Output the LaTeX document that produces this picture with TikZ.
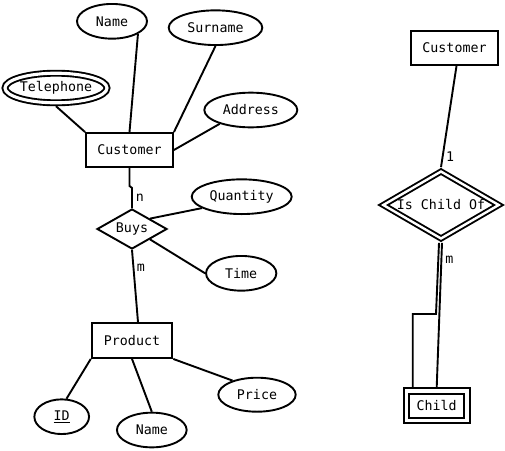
\documentclass[tikz,border=0pt]{standalone}
\usepackage{fontspec}
\setmonofont{DejaVu Sans Mono}
\usetikzlibrary{shapes.geometric}
\begin{document}
\begin{tikzpicture}[x=1pt,y=1pt,line width=1.9pt]
  \tikzstyle{every node}+=[inner sep=0pt,font=\ttfamily\fontsize{13.3}{16}\selectfont]
  \tikzstyle{entity}=[draw,rectangle,minimum width=87pt,minimum height=34pt]
  \tikzstyle{attr}=[draw,ellipse,minimum width=70pt,minimum height=34.7pt]
  \tikzstyle{rel}=[draw,diamond,aspect=1.8]
  \tikzstyle{weak}=[double,double distance=3.1pt,outer sep=3.4pt]
  \useasboundingbox (0,0) rectangle (505,-450);
  \node [entity] (cust) at (129.5,-150) {Customer};
  \node [attr] (name) at (112,-21.3) {Name};
  \node [attr,minimum width=93.6pt] (surname) at (215.5,-27.7) {Surname};
  \node [attr,weak,minimum width=102pt,minimum height=29.6pt] (tel) at (56,-88) {Telephone};
  \node [attr,minimum width=93pt] (addr) at (250.8,-110) {Address};
  \node [rel,minimum width=70pt,minimum height=40pt] (buys) at (132,-229) {Buys};
  \node [attr,minimum width=100pt] (qty) at (241.7,-196.7) {Quantity};
  \node [attr,minimum width=70.3pt] (time) at (241.2,-273.3) {Time};
  \node [entity,minimum width=80.6pt,minimum height=35pt] (prod) at (132,-340.5) {Product};
  \node [attr,minimum width=54.7pt] (id) at (61.7,-416.7) {\underline{ID}};
  \node [attr,minimum width=69.7pt] (pname) at (151.8,-430) {Name};
  \node [attr,minimum width=77.4pt,minimum height=34pt] (price) at (257,-394.7) {Price};
  \node [entity] (cust2) at (454.5,-48) {Customer};
  \node [rel,weak,double distance=2.4pt,outer sep=3.1pt,minimum width=118pt,minimum height=69.5pt] (icof) at (441,-205) {Is Child Of};
  \node [entity,weak,double distance=3.6pt,outer sep=3.7pt,minimum width=60.5pt,minimum height=29.5pt] (child) at (436.7,-405.8) {Child};
  \coordinate (bend) at (436,-314);
  \draw (name.334) -- (cust.north);
  \draw (surname.south) -- (cust.north east);
  \draw (tel.south) -- (cust.north west);
  \draw (addr.204) -- (cust.east);
  \draw (cust.south) -- ++(0,-18) -- ++(2.5,-2) -- node [right=3pt] {n} (buys.north);
  \draw (buys.30) -- (qty.196);
  \draw (buys.-30) -- (time.west);
  \draw (buys.south) -- node [right=2.5pt,pos=0.25] {m} (prod.72);
  \draw (prod.south west) -- (id.75);
  \draw (prod.south) -- (pname.north);
  \draw (prod.south east) -- (price.150);
  \draw ([xshift=2pt]cust2.south) -- node [right=2.5pt,pos=0.9] {1} (icof.north);
  \draw ([xshift=-2pt]icof.south) -- (bend) -| ([xshift=-24pt]child.north);
  \draw ([xshift=1pt]icof.south) -- node [right=3pt,pos=0.12] {m} (child.north);
\end{tikzpicture}
\end{document}
